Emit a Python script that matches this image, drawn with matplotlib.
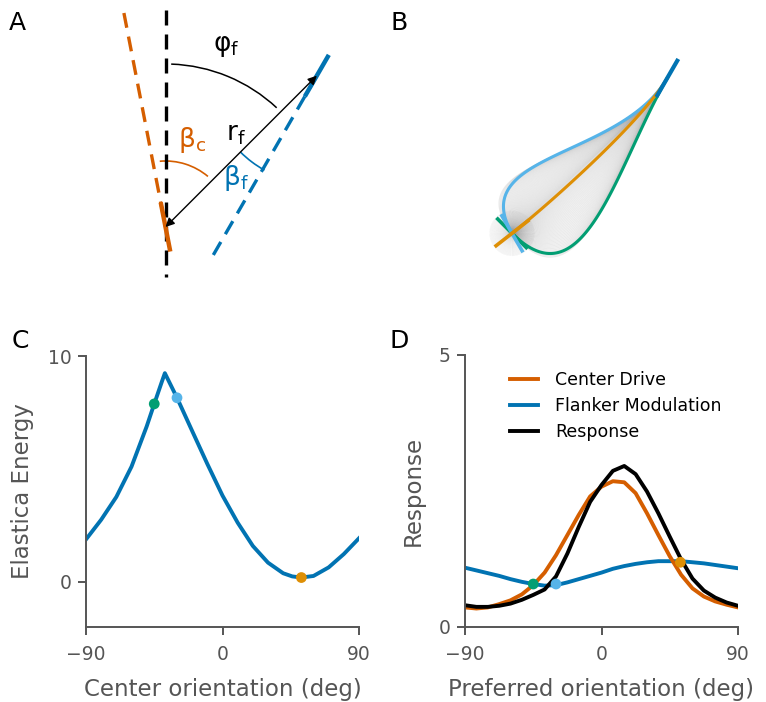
import numpy as np
import matplotlib
matplotlib.use("Agg")
import matplotlib.pyplot as plt
from matplotlib.patches import Arc

# colours (seaborn colorblind palette)
BLUE = "#0173B2"
VERM = "#D55E00"
ORANGE = "#DE8F05"
GREEN = "#029E73"
LBLUE = "#56B4E9"
GREY = "#555555"

# ---- panel C: elastica energy vs center orientation ----
c_orient = [-90, -80, -70, -60, -50, -45, -40, -38, -30, -20, -10, 0,
            10, 20, 30, 40, 46, 52, 60, 70, 80, 90]
c_energy = [1.88, 2.75, 3.76, 5.10, 6.88, 7.88, 8.86, 9.24, 8.15, 6.68, 5.22, 3.82,
            2.62, 1.59, 0.85, 0.38, 0.24, 0.19, 0.26, 0.64, 1.23, 1.93]

# ---- panel D: responses vs preferred orientation ----
d_orient = [-90, -82.5, -75, -67.5, -60, -52.5, -45, -37.5, -30, -22.5, -15, -7.5, 0,
            7.5, 15, 22.5, 30, 37.5, 45, 52.5, 60, 67.5, 75, 82.5, 90]
center_drive = [0.36, 0.34, 0.36, 0.42, 0.49, 0.60, 0.77, 1.00, 1.32, 1.69, 2.06, 2.40, 2.58,
                2.68, 2.66, 2.46, 2.09, 1.69, 1.30, 0.96, 0.71, 0.56, 0.47, 0.41, 0.36]
flanker_mod = [1.09, 1.04, 0.99, 0.94, 0.88, 0.83, 0.79, 0.76, 0.77, 0.82, 0.88, 0.94, 1.00,
               1.07, 1.12, 1.16, 1.19, 1.21, 1.21, 1.21, 1.19, 1.17, 1.14, 1.11, 1.08]
response = [0.40, 0.37, 0.37, 0.39, 0.43, 0.50, 0.59, 0.69, 0.93, 1.35, 1.84, 2.30, 2.61,
            2.87, 2.96, 2.81, 2.49, 2.09, 1.66, 1.24, 0.89, 0.67, 0.54, 0.45, 0.39]

# highlighted center orientations
dot_orient = [-45, -30, 52]
dot_colors = [GREEN, LBLUE, ORANGE]
dot_energy = [7.88, 8.15, 0.19]
dot_flanker = [0.79, 0.79, 1.19]

# ---- schematic geometry (A, B), px units, angles from vertical (deg) ----
a_r, a_phi, a_center_ori, a_flank_ori, a_half = 214, 45, -11, 30, 25
b_r, b_phi, b_flank_ori, b_flip, b_half = 219.6, 45, 30, -38, 22
gray_orients = np.arange(-90, 90, 2)


def unit(theta):
    t = np.deg2rad(theta)
    return np.array([np.sin(t), np.cos(t)])


fig = plt.figure(figsize=(7.66, 7.02), dpi=100)

# ================= A =================
ax = fig.add_axes([0, 0.5, 0.5, 0.5])
ax.set_xlim(-165.5, 217.5)
ax.set_ylim(-124, 227)
ax.axis("off")
dash = (0, (4.5, 2.7))
dc = unit(a_center_ori)
df = unit(a_flank_ori)
F = a_r * unit(a_phi)

ax.plot([0, 0], [217, -50], color="k", lw=2.4, ls=dash)
top = 218 * dc
ax.plot([top[0], 0], [top[1], 0], color=VERM, lw=2.4, ls=dash)
low = F - 215 * df
ax.plot([F[0], low[0]], [F[1], low[1]], color=BLUE, lw=2.4, ls=dash)
seg = np.array([-a_half * dc, a_half * dc])
ax.plot(seg[:, 0], seg[:, 1], color=VERM, lw=3.2, solid_capstyle="butt")
seg = np.array([F - 24 * df, F + 24 * df])
ax.plot(seg[:, 0], seg[:, 1], color=BLUE, lw=3.2, solid_capstyle="butt")
ax.annotate("", xy=F, xytext=(0, 0),
            arrowprops=dict(arrowstyle="<|-|>", color="k", lw=1.0,
                            shrinkA=0, shrinkB=0, mutation_scale=13))
ax.add_patch(Arc((0, 0), 326, 326, theta1=47, theta2=88, color="k", lw=1.1))
ax.add_patch(Arc((0, 0), 132, 132, theta1=50, theta2=95, color=VERM, lw=1.2))
ax.add_patch(Arc(F, 216, 216, theta1=225, theta2=241, color=BLUE, lw=1.2))
ax.text(61, 181, "φ$_\\mathrm{f}$", fontsize=19, ha="center", va="center")
ax.text(70.5, 93, "r$_\\mathrm{f}$", fontsize=19, ha="center", va="center")
ax.text(26.5, 87, "β$_\\mathrm{c}$", fontsize=19, ha="center", va="center", color=VERM)
ax.text(70.5, 49, "β$_\\mathrm{f}$", fontsize=19, ha="center", va="center", color=BLUE)

# ================= B =================
axb = fig.add_axes([0.5, 0.5, 0.5, 0.5])
axb.set_xlim(-129, 254)
axb.set_ylim(-117.7, 233.3)
axb.axis("off")
Fb = b_r * unit(b_phi)
d1 = unit(b_flank_ori)
t = np.linspace(0, 1, 120)[:, None]
h10 = t**3 - 2 * t**2 + t
h01 = -2 * t**3 + 3 * t**2
h11 = t**3 - t**2


def curve(theta):
    # smooth path from the center element to the flanker, leaving along
    # the center orientation and arriving along the flanker orientation
    d0 = unit(theta)
    if theta < b_flip:
        d0 = -d0
    turn = np.degrees(np.arccos(np.clip(d0 @ unit(b_phi), -1, 1)))
    k = b_r * (0.6 + 0.8 * turn / 90)
    return h10 * k * d0 + h01 * Fb + h11 * k * d1


for th in gray_orients:
    p = curve(th)
    axb.plot(p[:, 0], p[:, 1], color="0.55", lw=0.8, alpha=0.18, zorder=1)
    s = np.array([-b_half * unit(th), b_half * unit(th)])
    axb.plot(s[:, 0], s[:, 1], color="0.75", lw=0.8, alpha=0.1, zorder=1)

for th, col, z in zip(dot_orient, dot_colors, [2, 3, 4]):
    p = curve(th)
    axb.plot(p[:, 0], p[:, 1], color=col, lw=2.2, zorder=z)
    s = np.array([-b_half * unit(th), b_half * unit(th)])
    axb.plot(s[:, 0], s[:, 1], color=col, lw=2.6, zorder=z, solid_capstyle="butt")
s = np.array([Fb - b_half * d1, Fb + b_half * d1])
axb.plot(s[:, 0], s[:, 1], color=BLUE, lw=3.0, zorder=5, solid_capstyle="butt")


# ================= C, D =================
def style(a):
    for sp in ["top", "right"]:
        a.spines[sp].set_visible(False)
    for sp in ["left", "bottom"]:
        a.spines[sp].set_color(GREY)
        a.spines[sp].set_linewidth(1.4)
    a.tick_params(direction="out", length=6, width=1.4, color=GREY,
                  labelcolor=GREY, labelsize=13.5)
    a.tick_params(axis="x", pad=7)
    a.tick_params(axis="y", pad=4.5)
    a.set_xlim(-90, 90)
    a.set_xticks([-90, 0, 90])


axc = fig.add_axes([86 / 766, 75 / 702, 273 / 766, 271 / 702])
style(axc)
axc.plot(c_orient, c_energy, color=BLUE, lw=2.8, solid_joinstyle="round")
axc.scatter(dot_orient, dot_energy, c=dot_colors, s=60, zorder=3, linewidths=0)
axc.set_ylim(-2, 10)
axc.set_yticks([0, 10])
axc.set_xlabel("Center orientation (deg)", fontsize=16.5, color=GREY, labelpad=10)
axc.set_ylabel("Elastica Energy", fontsize=16.5, color=GREY, labelpad=10)

axd = fig.add_axes([465 / 766, 75 / 702, 273 / 766, 272 / 702])
style(axd)
l1, = axd.plot(d_orient, center_drive, color=VERM, lw=2.8, zorder=2.1, label="Center Drive")
l2, = axd.plot(d_orient, flanker_mod, color=BLUE, lw=2.8, zorder=2, label="Flanker Modulation")
l3, = axd.plot(d_orient, response, color="k", lw=2.8, zorder=2.2, label="Response")
axd.scatter(dot_orient, dot_flanker, c=dot_colors, s=60, zorder=3, linewidths=0)
axd.set_ylim(0, 5)
axd.set_yticks([0, 5])
axd.set_xlabel("Preferred orientation (deg)", fontsize=16.5, color=GREY, labelpad=10)
axd.set_ylabel("Response", fontsize=16.5, color=GREY, labelpad=10)
axd.legend(handles=[l1, l2, l3], loc="upper left", bbox_to_anchor=(0.165, 0.94),
           frameon=False, fontsize=12.5, borderpad=0, borderaxespad=0,
           handlelength=1.6, handletextpad=1.0, labelspacing=0.45)

for lab, x, y in [("A", 17, 23), ("B", 399, 22.5), ("C", 20, 341), ("D", 399, 341)]:
    fig.text(x / 766, 1 - y / 702, lab, fontsize=18, ha="center", va="center")

fig.savefig("out.png", dpi=100)
